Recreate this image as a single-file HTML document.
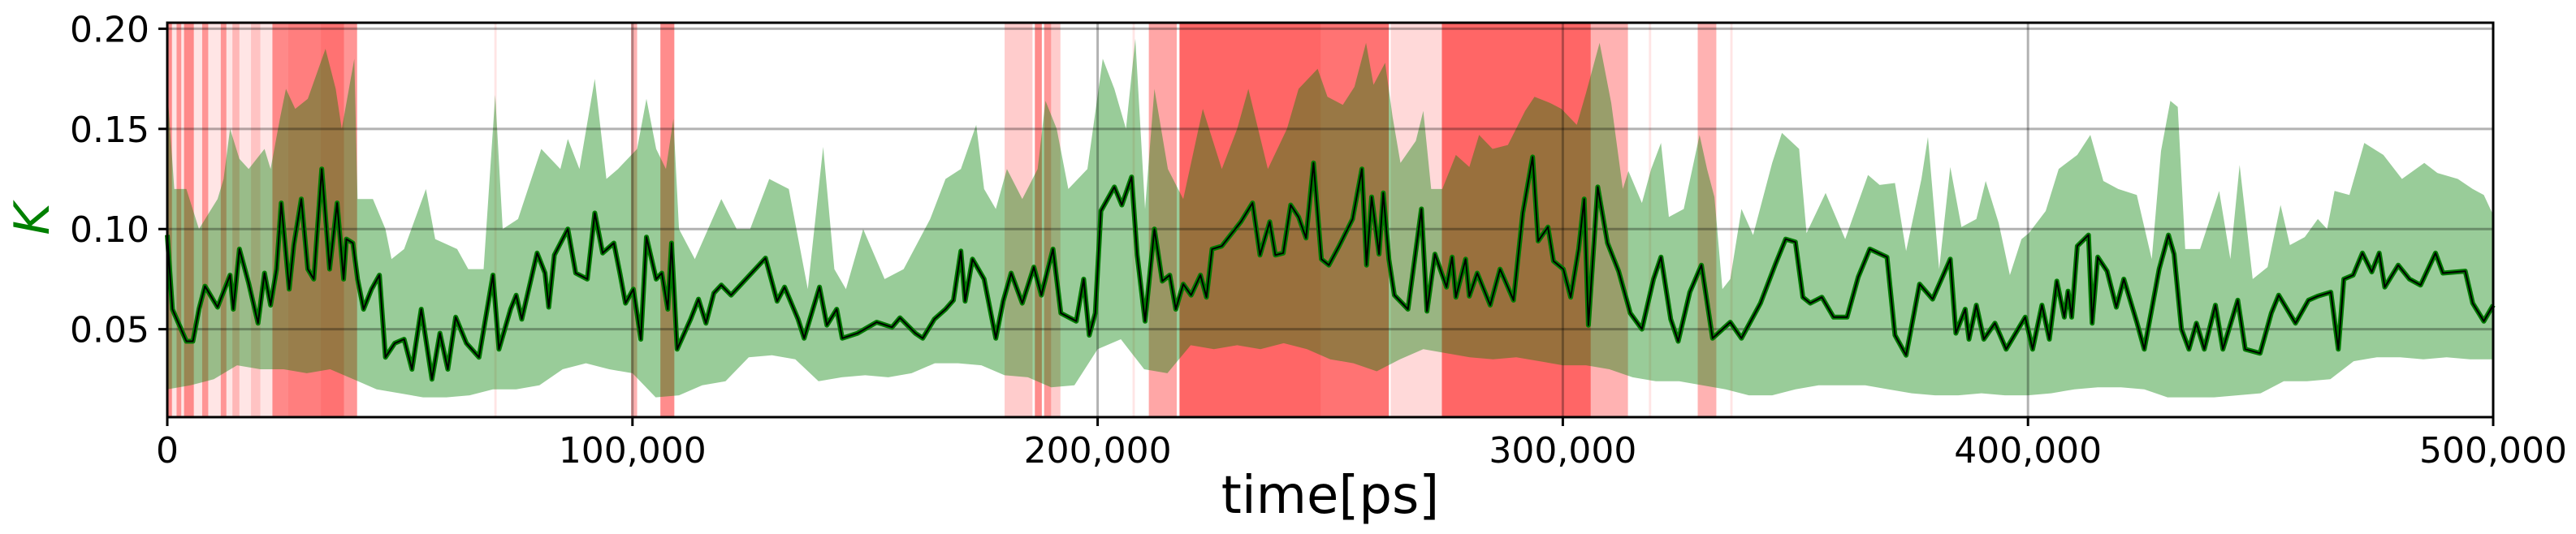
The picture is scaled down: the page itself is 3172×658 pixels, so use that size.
<!DOCTYPE html>
<html><head><meta charset="utf-8"><style>
html,body{margin:0;padding:0;background:#fff;}
svg{display:block;font-family:"DejaVu Sans","Liberation Sans",sans-serif;}
</style></head><body>
<svg id="chart" width="3172" height="658" viewBox="0 0 3172 658" xmlns="http://www.w3.org/2000/svg">
<g id="spans"></g>
<g id="band"></g>
<g id="grid"></g>
<g id="line"></g>
<g id="axes"></g>
<text x="1638" y="632" font-size="64" text-anchor="middle" fill="#000">time[ps]</text>
<text transform="translate(60,270) rotate(-90)" font-size="60" font-style="italic" text-anchor="middle" fill="#008000">K</text>
</svg>
<script>
const meanTimesK = [0,1.1,4.1,5.5,6.8,8.1,10.8,13.5,14.2,15.5,17.5,19.5,20.9,22.2,23.5,24.5,26.2,27.2,28.8,30.2,31.5,33.2,34.9,36.5,37.9,38.5,39.9,40.9,42.2,43.9,45.6,46.9,48.9,50.9,52.6,54.6,56.9,58.6,60.3,62.0,64.3,67.0,70,71.3,73.8,75,76.2,79.5,81.2,82,83.2,86.1,87.8,90.3,91.9,93.6,96,97.3,98.5,100.2,101.8,103,105.1,106.3,107.6,108.4,109.6,112.5,114.2,115.8,117.5,119.1,121.2,128.6,131.1,132.7,135.6,136.9,140.2,141.8,143.9,145.1,148.4,152.5,155.8,157.5,160.8,162.4,164.9,167.3,169,170.6,171.5,173.1,175.6,178.1,179.7,181.4,183.8,186.3,187.9,190.4,192.1,195.4,197,198.2,199.5,200.7,203.6,205.2,207.3,208.5,210.2,212.2,213.9,215.5,216.8,218.4,220.1,222.1,223.4,224.6,226.7,230.8,233.3,234.9,237,238.2,239.9,241.5,243.2,244.8,246.4,248.1,249.7,251.9,254.8,256.8,257.8,258.9,260.5,261.4,262.6,263.8,266.7,269.6,270.8,272.5,275,276.2,277,279.1,279.9,281.6,284.4,286.5,289.4,291.4,293.5,294.7,296.8,298,300.1,301.7,303.4,304.6,305.5,307.5,309.6,312,314.5,317,319.5,321.1,323.2,324.8,327.3,329.8,332.2,336,338.4,342.5,345.8,347.9,350,351.6,353.2,355.7,358.2,361.1,363.5,366,369.7,371.4,373.8,376.7,379.5,383.3,384.5,386.5,387.3,388.9,390.5,392.9,395.3,399.4,401,403,404.6,406.2,407.8,408.6,409.4,410.6,413,413.8,415,417,419,420.6,423.4,425,426.6,428.2,430.2,431.4,433,434.6,436.2,437.9,440.3,441.9,445.1,446.7,449.9,452.3,453.9,457.5,460.3,462.3,465.1,466.7,467.9,469.9,471.9,473.9,475.5,476.7,479.6,482,484.4,487.6,489.2,494,495.6,498,500];
const meanK = [0.097,0.06,0.044,0.044,0.06,0.0715,0.061,0.077,0.06,0.09,0.073,0.053,0.078,0.062,0.08,0.113,0.07,0.092,0.115,0.08,0.075,0.13,0.08,0.113,0.075,0.095,0.093,0.075,0.06,0.07,0.077,0.036,0.043,0.045,0.03,0.06,0.025,0.048,0.03,0.056,0.043,0.036,0.077,0.04,0.06,0.067,0.055,0.088,0.078,0.061,0.087,0.10,0.078,0.075,0.108,0.088,0.093,0.078,0.063,0.07,0.045,0.096,0.075,0.078,0.06,0.093,0.04,0.055,0.065,0.053,0.068,0.072,0.067,0.0855,0.064,0.071,0.055,0.0455,0.071,0.052,0.06,0.0455,0.048,0.0535,0.051,0.0557,0.048,0.0455,0.055,0.06,0.0645,0.089,0.064,0.085,0.075,0.0455,0.064,0.078,0.063,0.081,0.067,0.09,0.058,0.054,0.075,0.047,0.058,0.109,0.121,0.112,0.126,0.087,0.054,0.10,0.074,0.077,0.06,0.0725,0.067,0.077,0.066,0.09,0.0915,0.1036,0.113,0.087,0.1036,0.087,0.088,0.112,0.106,0.0955,0.133,0.085,0.082,0.0915,0.105,0.13,0.082,0.116,0.0875,0.118,0.085,0.067,0.06,0.11,0.059,0.0875,0.071,0.086,0.066,0.085,0.0665,0.078,0.062,0.08,0.0645,0.108,0.136,0.094,0.101,0.084,0.08,0.066,0.09,0.115,0.052,0.121,0.093,0.079,0.058,0.05,0.075,0.086,0.055,0.044,0.0685,0.082,0.0455,0.0535,0.0455,0.063,0.083,0.095,0.0935,0.066,0.063,0.066,0.056,0.056,0.076,0.09,0.086,0.047,0.037,0.0725,0.065,0.085,0.048,0.06,0.045,0.062,0.045,0.053,0.04,0.056,0.04,0.062,0.045,0.074,0.056,0.069,0.056,0.0915,0.097,0.053,0.086,0.079,0.061,0.075,0.0535,0.04,0.06,0.08,0.097,0.0874,0.05,0.04,0.053,0.04,0.062,0.04,0.0645,0.04,0.038,0.058,0.067,0.053,0.0645,0.0665,0.0685,0.04,0.075,0.077,0.088,0.0786,0.088,0.071,0.082,0.075,0.072,0.088,0.078,0.079,0.063,0.054,0.062];
const upperTimesK = [0,1.5,4.1,6.8,10.8,12.1,13.5,15.5,17.5,20.9,22.2,24.2,25.5,27.5,30.2,34,36.2,37.5,40.2,40.9,44.2,46.9,48.2,50.9,55.6,57.6,62.3,64.7,68,70.5,72.1,75.4,80.4,84.5,86.1,88.6,91.9,94.4,96.9,101,103,105.1,107.2,108.8,110,113.4,119.1,122.4,125.3,129.4,133.6,137.7,141,143.4,145.9,149.6,154.2,158.3,164,167.3,170.6,173.9,175.6,178.1,180.5,183.8,187.1,188.8,191.2,193.7,197.8,201.1,203.6,206.1,208.1,210.2,212.2,215.1,218.4,222.6,226.7,230,232.4,236.6,240.7,243.2,247.3,249.4,252.7,255.2,257.7,259.3,261.8,263.4,265.1,268.4,270,271.7,274.1,277,279.9,282,284.9,288.2,291.9,293.9,297.2,299.7,303,305,307.9,310.4,312.9,314.1,317,319,321.1,322.8,326,329.4,331,332.6,334.3,336,338.4,340.9,345,347.1,350.8,352.4,356.5,360.7,365.6,368.1,371.4,373.8,377.1,378.5,380.9,383.3,385.7,388.9,390.9,393.7,396.1,398.6,400.2,403.8,406.6,410.6,413.4,416.2,419.4,423.4,426.6,428.6,430.6,432.2,433.8,437,441.1,443.5,445.5,448.3,451.5,454.3,456.3,459.5,462.3,464.3,465.9,469.1,472.3,476.4,480.4,485.2,488,492.4,495.6,498,500];
const upperK = [0.17,0.12,0.12,0.10,0.115,0.125,0.15,0.135,0.13,0.14,0.13,0.155,0.17,0.16,0.165,0.19,0.17,0.15,0.185,0.115,0.115,0.10,0.085,0.09,0.12,0.095,0.09,0.08,0.08,0.167,0.10,0.105,0.14,0.13,0.145,0.13,0.175,0.125,0.13,0.14,0.165,0.14,0.13,0.155,0.10,0.085,0.115,0.10,0.10,0.125,0.12,0.07,0.141,0.08,0.07,0.10,0.075,0.08,0.105,0.125,0.13,0.152,0.12,0.11,0.13,0.115,0.13,0.164,0.15,0.12,0.13,0.185,0.17,0.15,0.195,0.11,0.17,0.13,0.115,0.16,0.13,0.15,0.17,0.13,0.15,0.17,0.18,0.166,0.162,0.171,0.193,0.172,0.183,0.156,0.133,0.144,0.159,0.12,0.12,0.137,0.131,0.147,0.14,0.142,0.159,0.166,0.163,0.16,0.152,0.168,0.193,0.163,0.12,0.129,0.113,0.13,0.143,0.106,0.11,0.147,0.13,0.116,0.07,0.075,0.11,0.097,0.133,0.148,0.14,0.098,0.118,0.095,0.127,0.122,0.123,0.089,0.125,0.146,0.08,0.131,0.101,0.105,0.124,0.103,0.077,0.095,0.098,0.109,0.13,0.137,0.147,0.124,0.12,0.117,0.085,0.139,0.164,0.161,0.09,0.09,0.119,0.085,0.132,0.075,0.081,0.112,0.092,0.096,0.105,0.10,0.119,0.117,0.143,0.137,0.125,0.133,0.128,0.125,0.12,0.117,0.107];
const lowerTimesK = [0,5,10,15,20,25,30,35,40,45,50,55,60,65,70,75,80,85,90,95,100,105,110,115,120,125,130,135,140,145,150,155,160,165,170,175,180,185,190,195,200,205,210,215,220,225,230,235,240,245,250,255,260,265,270,275,280,285,290,295,300,305,310,315,320,325,330,335,340,345,350,355,360,365,370,375,380,385,390,395,400,405,410,415,420,425,430,435,440,445,450,455,460,465,470,475,480,485,490,495,500];
const lowerK = [0.02,0.022,0.025,0.032,0.03,0.03,0.028,0.03,0.025,0.02,0.018,0.016,0.016,0.017,0.02,0.02,0.022,0.03,0.033,0.03,0.028,0.016,0.017,0.022,0.024,0.036,0.037,0.035,0.024,0.026,0.027,0.026,0.028,0.033,0.033,0.032,0.027,0.026,0.021,0.022,0.04,0.045,0.03,0.028,0.042,0.04,0.042,0.04,0.043,0.04,0.035,0.033,0.029,0.035,0.04,0.038,0.036,0.035,0.036,0.034,0.032,0.032,0.03,0.026,0.024,0.024,0.022,0.02,0.017,0.017,0.02,0.022,0.022,0.022,0.02,0.018,0.017,0.017,0.018,0.017,0.017,0.018,0.02,0.021,0.021,0.02,0.016,0.016,0.016,0.017,0.018,0.024,0.024,0.025,0.034,0.036,0.036,0.035,0.036,0.035,0.035];
const spanStartK = [0,0,2,3.6,7.5,11.5,14,18,22.6,26,33,38,70.3,99.7,106,180,186.5,188.5,190,207.5,211,217.6,248,263,274,306,318.5,329,336];
const spanEndK   = [40.8,1,3,5.7,8.8,12.7,15.5,20,26,33,38,40.8,70.8,101,109,186,188,190,192,208,217,248,262.6,274,306,314,319,333,336.5];
const spanAlpha  = [0.1,0.4,0.35,0.4,0.35,0.35,0.2,0.15,0.4,0.45,0.5,0.35,0.1,0.3,0.45,0.2,0.45,0.4,0.2,0.1,0.35,0.6,0.55,0.15,0.6,0.3,0.1,0.3,0.1];
const xTicks = [0,100000,200000,300000,400000,500000];
const xTickLabels = ["0","100,000","200,000","300,000","400,000","500,000"];
const yTicks = [0.05,0.10,0.15,0.20];
const yTickLabels = ["0.05","0.10","0.15","0.20"];

const L=206,R=3070,T=28,B=514;
const X0=0,X1=500000, Y0=0.0061, Y1=0.2030;
const sx = t => L + (t-X0)/(X1-X0)*(R-L);
const sy = v => B - (v-Y0)/(Y1-Y0)*(B-T);
const NS="http://www.w3.org/2000/svg";
function mk(tag, parent, attrs){const e=document.createElementNS(NS,tag);for(const k in attrs)e.setAttribute(k,attrs[k]);parent.appendChild(e);return e;}

const spans=document.getElementById('spans');
for(let i=0;i<spanStartK.length;i++){
  const x0=sx(spanStartK[i]*1000), x1=sx(spanEndK[i]*1000);
  const r=mk('rect',spans,{x:x0,y:T,width:Math.max(1,x1-x0),height:B-T,fill:'#ff0000','fill-opacity':spanAlpha[i]});
  
  
}

const band=document.getElementById('band');
let d='';
for(let i=0;i<upperTimesK.length;i++){d+=(i?'L':'M')+sx(upperTimesK[i]*1000).toFixed(1)+' '+sy(upperK[i]).toFixed(1);}
for(let i=lowerTimesK.length-1;i>=0;i--){d+='L'+sx(lowerTimesK[i]*1000).toFixed(1)+' '+sy(lowerK[i]).toFixed(1);}
const bp=mk('path',band,{d:d+'Z',fill:'#008000','fill-opacity':0.4});



const grid=document.getElementById('grid');
xTicks.forEach(t=>{ if(t>X0&&t<X1){const g=mk('line',grid,{x1:sx(t),x2:sx(t),y1:T,y2:B,stroke:'#000','stroke-opacity':0.3,'stroke-width':3});
  
  }});
yTicks.forEach(v=>{const g=mk('line',grid,{x1:L,x2:R,y1:sy(v),y2:sy(v),stroke:'#000','stroke-opacity':0.3,'stroke-width':3});
  
  });

const line=document.getElementById('line');
let ld='';
for(let i=0;i<meanTimesK.length;i++){ld+=(i?'L':'M')+sx(meanTimesK[i]*1000).toFixed(1)+' '+sy(meanK[i]).toFixed(1);}
const l1=mk('path',line,{d:ld,fill:'none',stroke:'#007a00','stroke-width':6,'stroke-linejoin':'round'});


const l2=mk('path',line,{d:ld,fill:'none',stroke:'#000','stroke-width':2,'stroke-linejoin':'round'});



const axes=document.getElementById('axes');
const fr=mk('rect',axes,{x:L,y:T,width:R-L,height:B-T,fill:'none',stroke:'#000','stroke-width':3});


xTicks.forEach((t,i)=>{
  const tk=mk('line',axes,{x1:sx(t),x2:sx(t),y1:B,y2:B+11,stroke:'#000','stroke-width':3});
  
  
  const tx=mk('text',axes,{x:sx(t),y:570,'font-size':44,'text-anchor':'middle',fill:'#000'});
  tx.textContent=xTickLabels[i];
  
  
});
yTicks.forEach((v,i)=>{
  const tk=mk('line',axes,{x1:L-11,x2:L,y1:sy(v),y2:sy(v),stroke:'#000','stroke-width':3});
  
  
  const tx=mk('text',axes,{x:L-22,y:sy(v)+16,'font-size':44,'text-anchor':'end',fill:'#000'});
  tx.textContent=yTickLabels[i];
  
  
});
</script>
</body></html>
